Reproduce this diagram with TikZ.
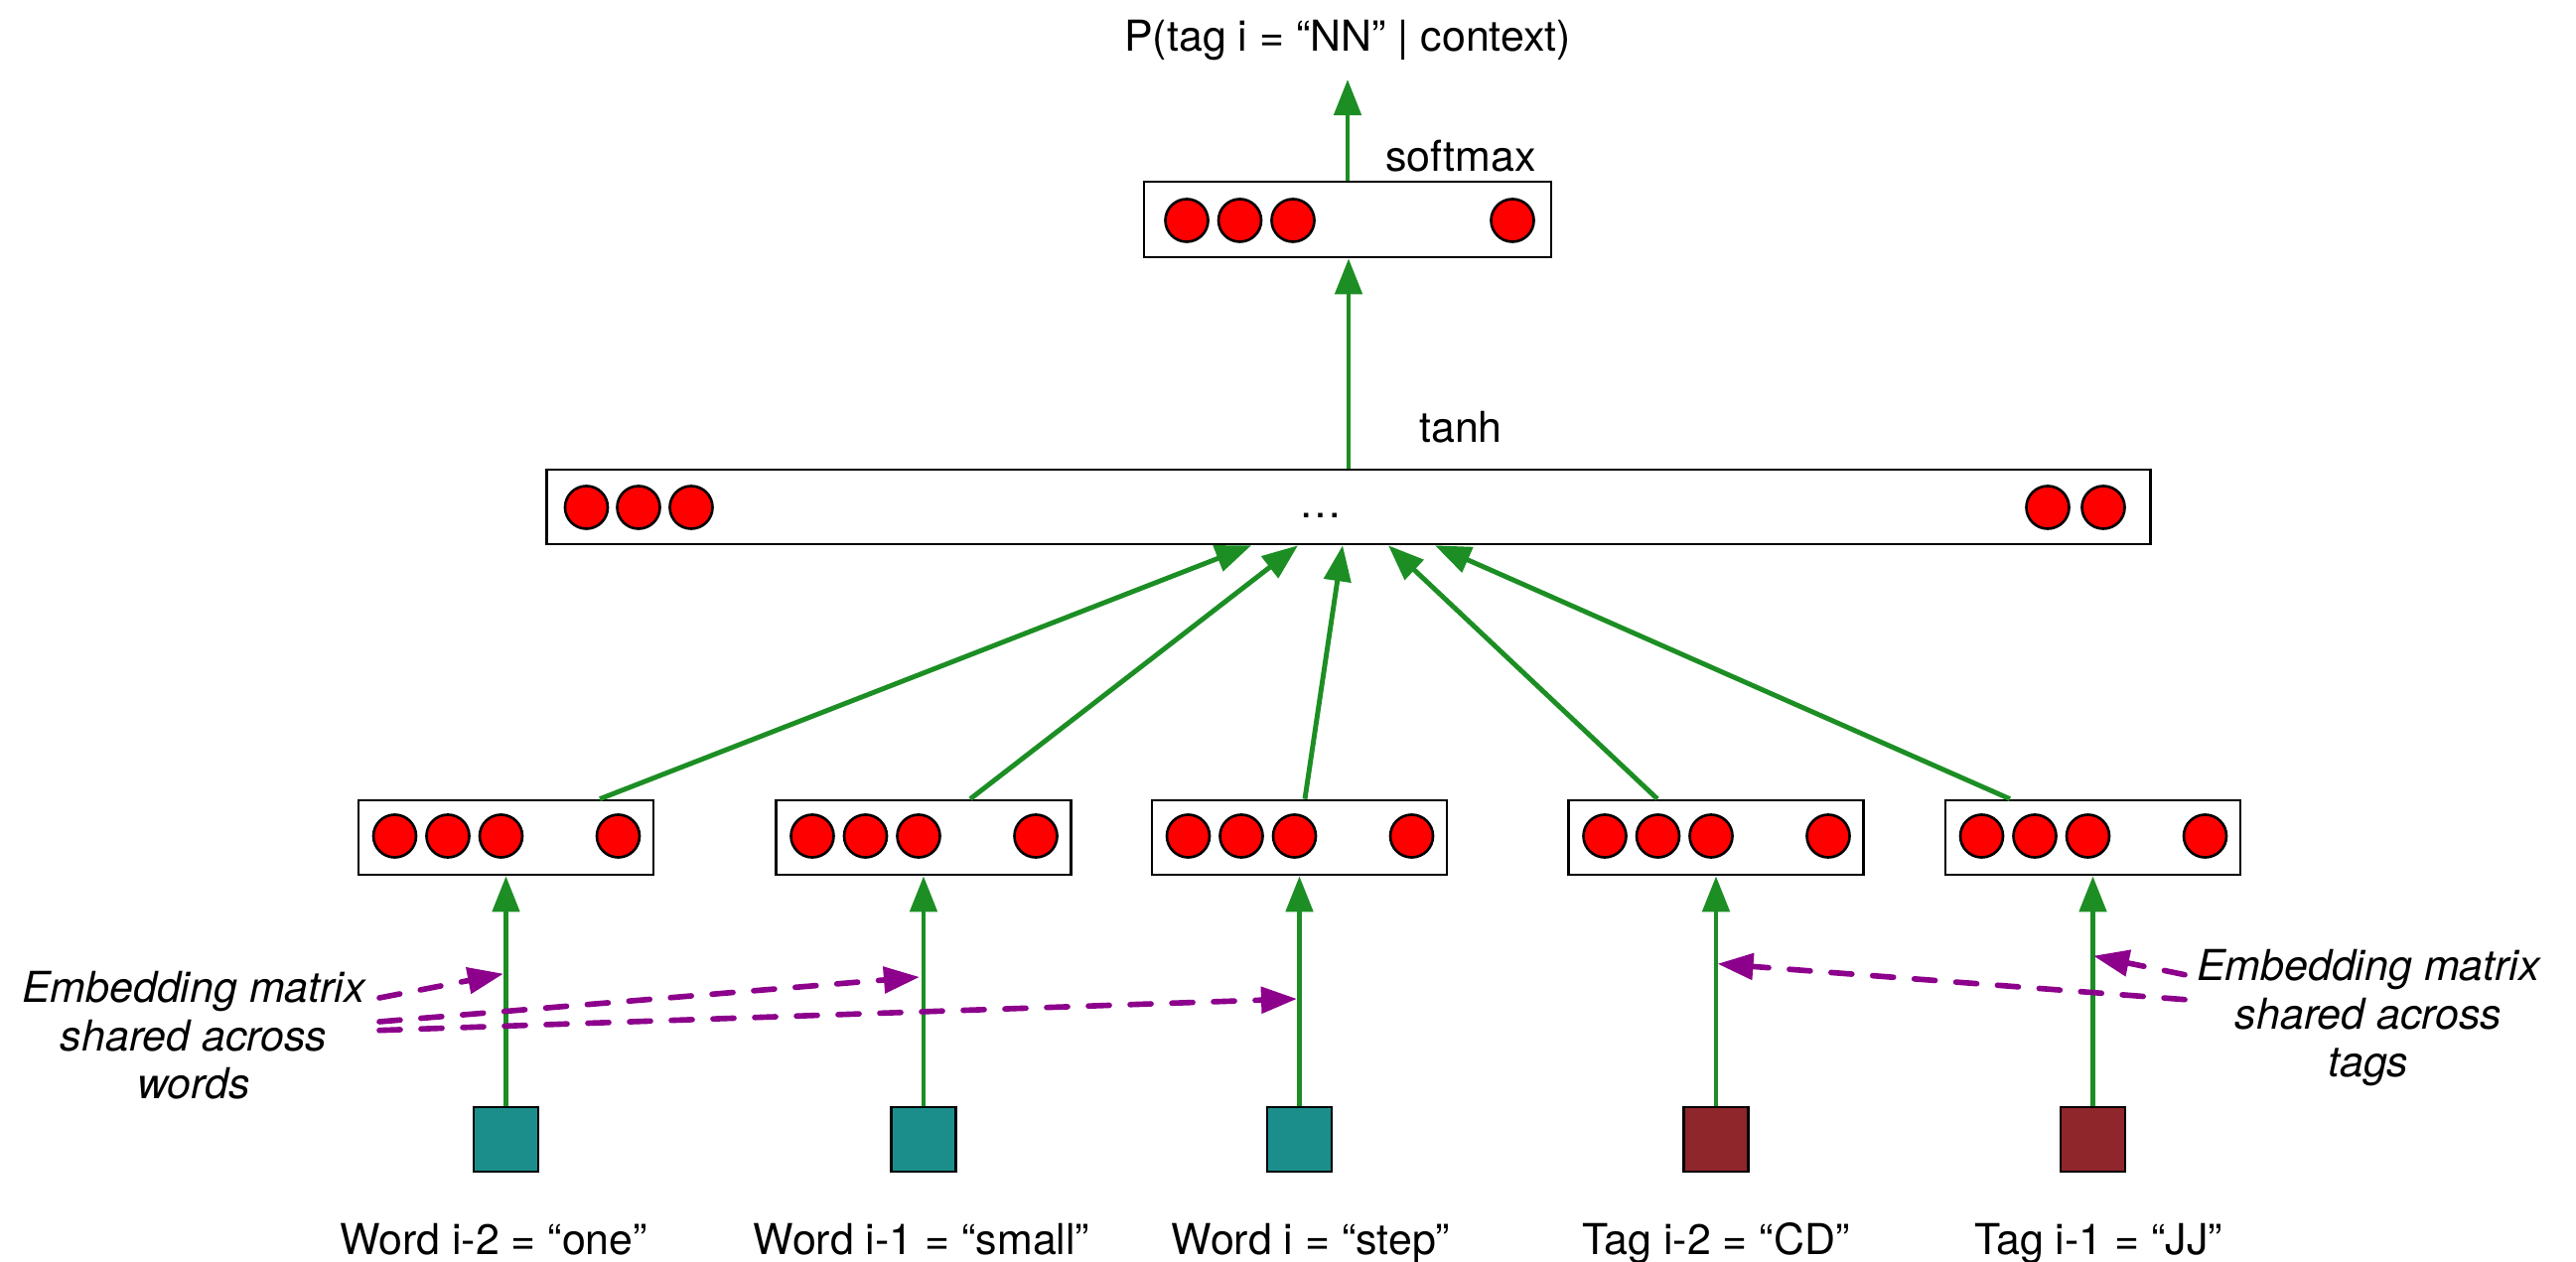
\documentclass[tikz,border=0pt]{standalone}
\usepackage{fontspec}
\setmainfont{TeX Gyre Heros}
\usetikzlibrary{arrows.meta,calc}
\definecolor{gr}{RGB}{28,142,36}
\definecolor{tl}{RGB}{27,142,140}
\definecolor{dr}{RGB}{142,38,44}
\definecolor{pu}{RGB}{140,0,140}
\begin{document}
\begin{tikzpicture}[x=0.01cm,y=-0.01cm,
 lbl/.style={font=\fontsize{12.2}{13.8}\selectfont, inner sep=0},
 ilbl/.style={font=\fontsize{12.2}{13.8}\selectfont\itshape, inner sep=0, align=center},
 vec/.style={draw=black,line width=0.75pt,fill=white,minimum width=2.97cm,minimum height=0.75cm,inner sep=0},
 unit/.style={circle,draw=black,line width=0.75pt,fill=red,minimum size=0.43cm,inner sep=0},
 inp/.style={draw=black,line width=0.75pt,minimum size=0.65cm,inner sep=0},
 garr/.style={draw=gr,line width=1.4pt,-{Triangle[length=0.36cm,width=0.27cm]}},
 parr/.style={draw=pu,line width=1.6pt,dash pattern=on 0.21cm off 0.21cm,line cap=round,-{Triangle[length=0.36cm,width=0.26cm]}},
]
\useasboundingbox (0,0) rectangle (2594,1271);

% output
\node[lbl,anchor=base] (title) at (1357,52) {P(tag i = “NN” | context)};
\node[vec,minimum width=4.10cm,minimum height=0.76cm] (sm) at (1357,221) {};
\foreach \x [count=\k] in {1195,1248.5,1302,1523}
  \node[unit] (sm\k) at (\x,222) {};
\node[lbl,anchor=base] (smlab) at (1471,173) {softmax};
\coordinate (smtip) at (1357,80);
\draw[garr] (sm.north) -- (smtip);

% hidden layer
\node[vec,minimum width=16.14cm] (th) at (1358,510.5) {};
\foreach \x [count=\k] in {590.5,643,696,2062,2118}
  \node[unit] (th\k) at (\x,511) {};
\node[lbl,anchor=base] (dots) at (1330,522) {…};
\node[lbl,anchor=base] (thlab) at (1471,446) {tanh};
\draw[garr] (th.north) -- (th.north |- sm.south);

% embedding layer
\foreach \c/\col/\lx/\txt [count=\k] in {509.5/tl/497/{Word i-2 = “one”},930/tl/928/{Word i-1 = “small”},1308.5/tl/1320/{Word i = “step”},1728/dr/1728/{Tag i-2 = “CD”},2107.5/dr/2113/{Tag i-1 = “JJ”}}{
  \node[vec] (b\k) at (\c,843.5) {};
  \node[unit] (b\k a) at (\c-112,842) {};
  \node[unit] (b\k b) at (\c-58.5,842) {};
  \node[unit] (b\k c) at (\c-5,842) {};
  \node[unit] (b\k d) at (\c+113,842) {};
  \node[inp,fill=\col] (s\k) at (\c,1147.5) {};
  \node[lbl,anchor=base] (l\k) at (\lx,1263) {\txt};
  \draw[garr] (s\k.north) -- (b\k.south);
}

% connections to hidden layer
\foreach \k/\sx/\tx in {1/94.5/-98,2/47/-51,3/5.5/-6,4/-59/40,5/-83.5/87}{
  \coordinate (t\k) at ($(th.south)+(\tx,0)$);
  \draw[garr] ($(b\k.north)+(\sx,0)$) -- (t\k);
}

% embedding matrix labels (base = last line)
\node[ilbl,anchor=base] (lw) at (195,1107) {Embedding matrix\\shared across\\words};
\node[ilbl,anchor=base] (lt) at (2385,1085) {Embedding matrix\\shared across\\tags};

\coordinate (w1s) at (382,1005);
\coordinate (w2s) at (382,1029);
\coordinate (w3s) at (382,1037.7);
\coordinate (w1t) at (507,980.7);
\coordinate (w2t) at (926,984);
\coordinate (w3t) at (1306,1006);
\draw[parr] (w1s) -- (w1t);
\draw[parr] (w2s) -- (w2t);
\draw[parr] (w3s) -- (w3t);

\coordinate (g1s) at (2200,981.7);
\coordinate (g2s) at (2200,1006.7);
\coordinate (g1t) at (2108,962.7);
\coordinate (g2t) at (1729.5,970.7);
\draw[parr] (g1s) -- (g1t);
\draw[parr] (g2s) -- (g2t);
\end{tikzpicture}
\end{document}
